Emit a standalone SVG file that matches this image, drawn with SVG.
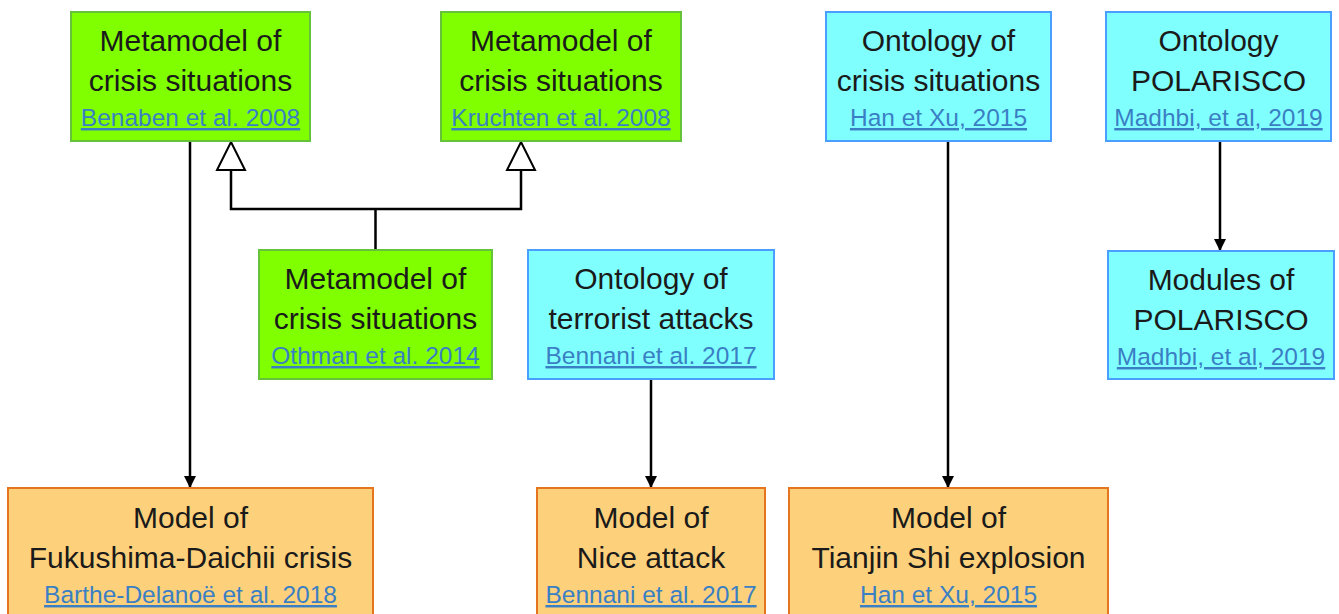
<svg xmlns="http://www.w3.org/2000/svg" width="1339" height="614" viewBox="0 0 1339 614">
<style>
.g{fill:#80ff00;stroke:#66c23a;stroke-width:2}
.c{fill:#80ffff;stroke:#4a9eff;stroke-width:2}
.o{fill:#fdd17b;stroke:#e5761f;stroke-width:2}
.t{font-family:"Liberation Sans",Arial,sans-serif;font-size:30px;fill:#1a1a1a;text-anchor:middle}
.l{font-family:"Liberation Sans",Arial,sans-serif;font-size:24.5px;fill:#3a7fc4;text-anchor:middle;text-decoration:underline}
.e{stroke:#000;stroke-width:2.5;fill:none}
</style>
<defs>
<marker id="arr" markerWidth="12" markerHeight="12" refX="11" refY="6" orient="auto" markerUnits="userSpaceOnUse">
<path d="M0,0 L12,6 L0,12 Z" fill="#000"/>
</marker>
</defs>
<rect width="1339" height="614" fill="#fff"/>
<g id="connectors">
<line class="e" x1="190" y1="141" x2="190" y2="487" marker-end="url(#arr)"/>
<line class="e" x1="651" y1="379" x2="651" y2="487" marker-end="url(#arr)"/>
<line class="e" x1="948" y1="141" x2="948" y2="487" marker-end="url(#arr)"/>
<line class="e" x1="1220" y1="141" x2="1220" y2="250" marker-end="url(#arr)"/>
<path class="e" d="M375.5,250 V209 M231,170 V209 H521 V170"/>
<path d="M231,142 L245,170 L217,170 Z" fill="#fff" stroke="#000" stroke-width="2"/>
<path d="M521,142 L535,170 L507,170 Z" fill="#fff" stroke="#000" stroke-width="2"/>
</g>
<g id="benaben">
<rect class="g" x="71" y="12" width="239" height="129"/>
<text class="t" x="190.5" y="51">Metamodel of</text>
<text class="t" x="190.5" y="91">crisis situations</text>
<text class="l" x="190.5" y="126">Benaben et al. 2008</text>
</g>
<g id="kruchten">
<rect class="g" x="441" y="12" width="240" height="129"/>
<text class="t" x="561" y="51">Metamodel of</text>
<text class="t" x="561" y="91">crisis situations</text>
<text class="l" x="561" y="126">Kruchten et al. 2008</text>
</g>
<g id="han">
<rect class="c" x="826" y="12" width="225" height="129"/>
<text class="t" x="938.5" y="51">Ontology of</text>
<text class="t" x="938.5" y="91">crisis situations</text>
<text class="l" x="938.5" y="126">Han et Xu, 2015</text>
</g>
<g id="polarisco">
<rect class="c" x="1106" y="12" width="225" height="129"/>
<text class="t" x="1218.5" y="51">Ontology</text>
<text class="t" x="1218.5" y="91">POLARISCO</text>
<text class="l" x="1218.5" y="126">Madhbi, et al, 2019</text>
</g>
<g id="othman">
<rect class="g" x="259" y="250" width="233" height="129"/>
<text class="t" x="375.5" y="289">Metamodel of</text>
<text class="t" x="375.5" y="329">crisis situations</text>
<text class="l" x="375.5" y="364">Othman et al. 2014</text>
</g>
<g id="terrorist">
<rect class="c" x="528" y="250" width="246" height="129"/>
<text class="t" x="651" y="289">Ontology of</text>
<text class="t" x="651" y="329">terrorist attacks</text>
<text class="l" x="651" y="364">Bennani et al. 2017</text>
</g>
<g id="modules">
<rect class="c" x="1108" y="251" width="226" height="128"/>
<text class="t" x="1221" y="290">Modules of</text>
<text class="t" x="1221" y="330">POLARISCO</text>
<text class="l" x="1221" y="365">Madhbi, et al, 2019</text>
</g>
<g id="fukushima">
<rect class="o" x="8" y="488" width="365" height="140"/>
<text class="t" x="190.5" y="528">Model of</text>
<text class="t" x="190.5" y="568">Fukushima-Daichii crisis</text>
<text class="l" x="190.5" y="603">Barthe-Delanoë et al. 2018</text>
</g>
<g id="nice">
<rect class="o" x="537" y="488" width="228" height="140"/>
<text class="t" x="651" y="528">Model of</text>
<text class="t" x="651" y="568">Nice attack</text>
<text class="l" x="651" y="603">Bennani et al. 2017</text>
</g>
<g id="tianjin">
<rect class="o" x="789" y="488" width="319" height="140"/>
<text class="t" x="948.5" y="528">Model of</text>
<text class="t" x="948.5" y="568">Tianjin Shi explosion</text>
<text class="l" x="948.5" y="603">Han et Xu, 2015</text>
</g>
</svg>
